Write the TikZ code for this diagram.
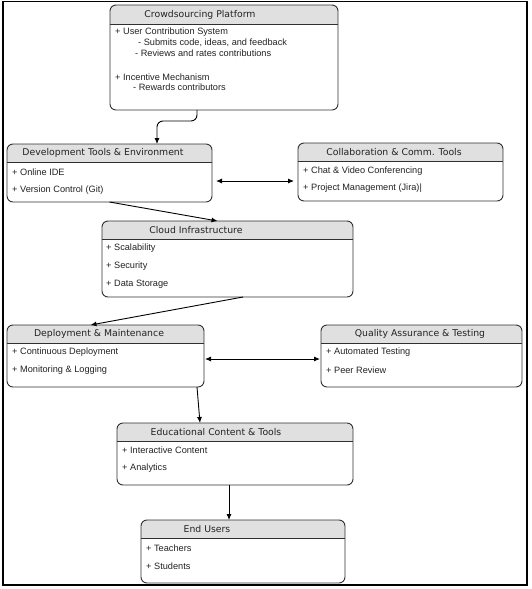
\documentclass[tikz,border=0pt]{standalone}
\usepackage{fontspec}
\setmainfont{Liberation Sans}
\newfontfamily\titlefont{DejaVu Sans}
\usetikzlibrary{arrows.meta}
\definecolor{hdrgray}{HTML}{E0E0E0}
\definecolor{linegray}{HTML}{303030}
\definecolor{txtgray}{HTML}{222222}
\tikzset{
  boxnode/.style={inner sep=0pt, outer sep=0pt, anchor=north west},
  boxline/.style={draw=linegray, line width=0.9pt, rounded corners=6pt},
  sepline/.style={draw=linegray, line width=0.9pt},
  ttl/.style={font=\titlefont\fontsize{9.3}{11}\selectfont, text=txtgray, inner sep=0pt},
  itm/.style={font=\fontsize{9.2}{11}\selectfont, text=txtgray, inner sep=0pt, anchor=west},
  arr/.style={draw=black, line width=0.9pt, -{Latex[length=6pt,width=5pt]}},
  darr/.style={draw=black, line width=0.9pt, {Latex[length=6pt,width=5pt]}-{Latex[length=6pt,width=5pt]}},
}
% name, x1, y1, x2, y2, header bottom y
\newcommand\umlbox[6]{%
  \node[boxnode, minimum width={(#4-#2)*1pt}, minimum height={(#5-#3)*1pt}] (#1) at (#2,#3) {};
  \begin{scope}
    \clip[rounded corners=6pt] (#1.north west) rectangle (#1.south east);
    \fill[hdrgray] (#1.north west) rectangle (#4,#6);
  \end{scope}
  \draw[sepline] (#2,#6) -- (#4,#6);
  \draw[boxline] (#1.north west) rectangle (#1.south east);
}
\begin{document}
\begin{tikzpicture}[x=1pt, y=-1pt]
\useasboundingbox (0,0) rectangle (532,589);
\draw[black, line width=1.2pt] (3,1.5) rectangle (527,585);

% Crowdsourcing Platform
\umlbox{crowd}{110}{5}{338}{110}{24}
\node[ttl] (crowdT) at (200,14.5) {Crowdsourcing Platform};
\node[itm] (c1) at (115,32) {+ User Contribution System};
\node[itm] (c2) at (138,42.5) {- Submits code, ideas, and feedback};
\node[itm] (c3) at (135,53) {- Reviews and rates contributions};
\node[itm] (c4) at (115,77) {+ Incentive Mechanism};
\node[itm] (c5) at (133,87) {- Rewards contributors};

% Development Tools
\umlbox{dev}{7}{144}{212}{202}{162}
\node[ttl] (devT) at (103,153) {Development Tools \& Environment};
\node[itm] (d1) at (12,172) {+ Online IDE};
\node[itm] (d2) at (12,190) {+ Version Control (Git)};

% Collaboration
\umlbox{collab}{298}{143}{503}{201}{161}
\node[ttl] (colT) at (394,152) {Collaboration \& Comm. Tools};
\node[itm] (k1) at (303,171) {+ Chat \& Video Conferencing};
\node[itm] (k2) at (303,188.5) {+ Project Management (Jira)|};

% Cloud
\umlbox{cloud}{102}{221}{353}{297}{239}
\node[ttl] (cloT) at (196,230) {Cloud Infrastructure};
\node[itm] (l1) at (106,248) {+ Scalability};
\node[itm] (l2) at (106,266) {+ Security};
\node[itm] (l3) at (106,284) {+ Data Storage};

% Deployment
\umlbox{deploy}{7}{325}{204}{387}{343}
\node[ttl] (depT) at (99,334) {Deployment \& Maintenance};
\node[itm] (p1) at (12,352) {+ Continuous Deployment};
\node[itm] (p2) at (12,370) {+ Monitoring \& Logging};

% QA
\umlbox{qa}{321}{325}{522}{387}{343}
\node[ttl] (qaT) at (420,334) {Quality Assurance \& Testing};
\node[itm] (q1) at (326,352) {+ Automated Testing};
\node[itm] (q2) at (326,370) {+ Peer Review};

% Educational
\umlbox{edu}{117}{423}{353}{485}{441}
\node[ttl] (eduT) at (216,432) {Educational Content \& Tools};
\node[itm] (e1) at (122,450) {+ Interactive Content};
\node[itm] (e2) at (122,468) {+ Analytics};

% End users
\umlbox{endu}{141}{520}{345}{583}{538}
\node[ttl] (endT) at (207,529) {End Users};
\node[itm] (u1) at (146,548) {+ Teachers};
\node[itm] (u2) at (146,566) {+ Students};

% connectors
\draw[arr, rounded corners=6pt] ([xshift=-27pt]crowd.south) -- ++(0,11) -| ([xshift=47.5pt]dev.north);
\draw[darr, shorten <=4pt, shorten >=4pt] ([yshift=-8pt]dev.east) -- ([yshift=-9pt]collab.west);
\draw[arr] (dev.south) -- ([xshift=-10pt]cloud.north);
\draw[arr] ([xshift=15.5pt]cloud.south) -- ([xshift=-15pt]deploy.north);
\draw[darr, shorten <=1pt, shorten >=1pt] ([yshift=-3pt]deploy.east) -- ([yshift=-3pt]qa.west);
\draw[arr] ([xshift=91.5pt]deploy.south) -- ([xshift=-35pt]edu.north);
\draw[arr] ([xshift=-6pt]edu.south) -- ([xshift=-14pt]endu.north);
\end{tikzpicture}
\end{document}
